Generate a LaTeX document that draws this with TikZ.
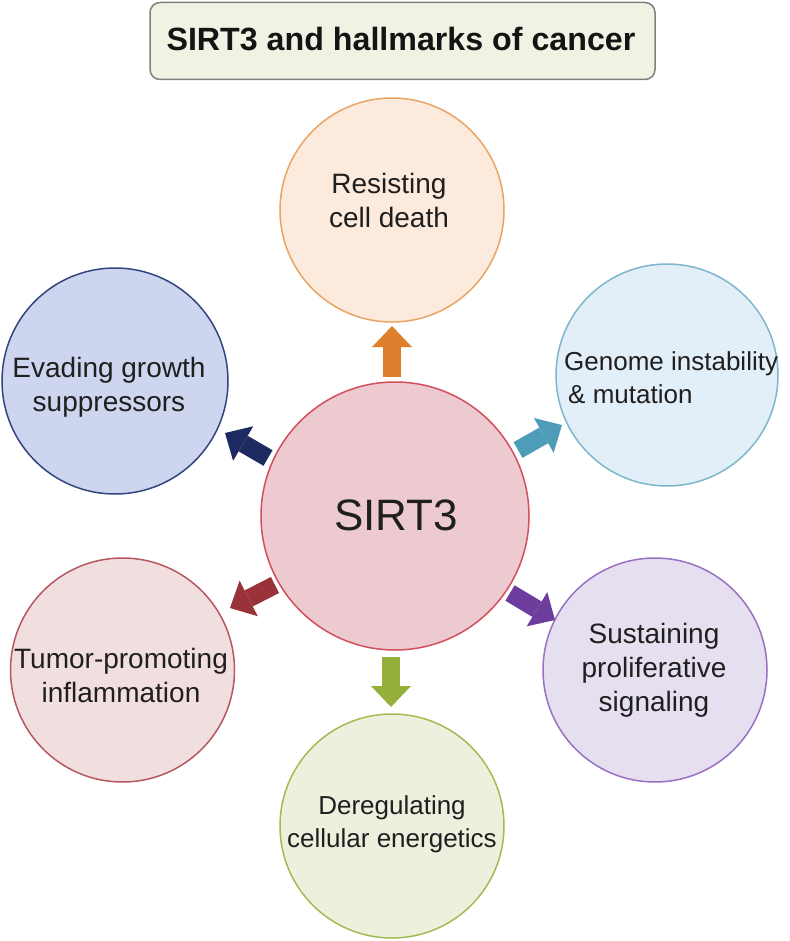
\documentclass[tikz,border=0pt]{standalone}
\usepackage{fontspec}
\setmainfont{Liberation Sans}
\usetikzlibrary{arrows.meta}
\definecolor{titlefill}{HTML}{F0F3E4}
\definecolor{titledraw}{HTML}{808080}
\definecolor{cTopF}{HTML}{FCEBDD}\definecolor{cTopD}{HTML}{E8A366}\definecolor{cTopA}{HTML}{DF7F2E}
\definecolor{cEvaF}{HTML}{CDD6EE}\definecolor{cEvaD}{HTML}{34457F}\definecolor{cEvaA}{HTML}{1E2B62}
\definecolor{cGenF}{HTML}{E2EEF8}\definecolor{cGenD}{HTML}{7EB6CB}\definecolor{cGenA}{HTML}{4E9CB8}
\definecolor{cSirF}{HTML}{EDC9D0}\definecolor{cSirD}{HTML}{D2505E}
\definecolor{cTumF}{HTML}{F1DEDF}\definecolor{cTumD}{HTML}{B55860}\definecolor{cTumA}{HTML}{9A323A}
\definecolor{cSusF}{HTML}{E5DFEF}\definecolor{cSusD}{HTML}{9A70C4}\definecolor{cSusA}{HTML}{6C3D9C}
\definecolor{cDerF}{HTML}{EEF0DE}\definecolor{cDerD}{HTML}{A2BC55}\definecolor{cDerA}{HTML}{95B03A}
\tikzset{
  hall/.style={circle, draw, line width=1.5pt, minimum size=224pt, inner sep=0pt},
  lbl/.style={align=center, font=\fontsize{28}{34}\selectfont, text=black!88, inner sep=0pt},
  lblsmall/.style={lbl, font=\fontsize{26}{33}\selectfont},
  bigarrow/.style={line width=18pt, -{Triangle[length=21pt,width=40pt,line width=0pt]}}
}
\begin{document}
\begin{tikzpicture}[x=1pt,y=-1pt]
\useasboundingbox (0,0) rectangle (789,941);
% title
\node[draw=titledraw, fill=titlefill, line width=1.5pt, rounded corners=10pt,
      minimum width=505pt, minimum height=77pt, inner sep=0pt] (title) at (402.5,41) {};
\node[font=\fontsize{32.2}{36}\selectfont\bfseries, inner sep=0pt, text=black!92] (titletext) at (401,39) {SIRT3 and hallmarks of cancer};
% circles
\node[hall, draw=cTopD, fill=cTopF] (top) at (392,210) {};
\node[hall, draw=cEvaD, fill=cEvaF, minimum size=226pt] (eva) at (115,381) {};
\node[hall, draw=cGenD, fill=cGenF, minimum size=222pt] (gen) at (667,375) {};
\node[hall, draw=cTumD, fill=cTumF] (tum) at (122.5,670) {};
\node[hall, draw=cSusD, fill=cSusF] (sus) at (655,670) {};
\node[hall, draw=cDerD, fill=cDerF] (der) at (392,826) {};
\node[hall, draw=cSirD, fill=cSirF, minimum size=268pt] (sirt) at (395,516) {};
% labels
\node[lbl] (topt) at (389,200.5) {Resisting\\cell death};
\node[lbl] (evat) at (109,387) {Evading growth\\suppressors};
\node[lblsmall, align=left, anchor=west] (gent) at (564,378) {Genome instability\\\hspace*{4pt}\& mutation};
\node[lbl] (tumt) at (121,675.5) {Tumor-promoting\\inflammation};
\node[lbl] (sust) at (654,670.5) {Sustaining\\proliferative\\signaling};
\node[lblsmall] (dert) at (392,824) {Deregulating\\cellular energetics};
\node[font=\fontsize{44}{50}\selectfont, inner sep=0pt, text=black!88] (sirtt) at (396,515) {SIRT3};
% arrow end points
\coordinate (aTop0) at (392,377); \coordinate (aTop1) at (392,326);
\coordinate (aGen0) at (518,450); \coordinate (aGen1) at (562,425);
\coordinate (aEva0) at (268,458); \coordinate (aEva1) at (225,433);
\coordinate (aTum0) at (275,585); \coordinate (aTum1) at (230,608);
\coordinate (aSus0) at (510,593); \coordinate (aSus1) at (555,620);
\coordinate (aDer0) at (391,657); \coordinate (aDer1) at (391,707);
% arrows
\draw[bigarrow, cTopA] (aTop0) -- (aTop1);
\draw[bigarrow, cGenA] (aGen0) -- (aGen1);
\draw[bigarrow, cEvaA] (aEva0) -- (aEva1);
\draw[bigarrow, cTumA] (aTum0) -- (aTum1);
\draw[bigarrow, cSusA] (aSus0) -- (aSus1);
\draw[bigarrow, cDerA] (aDer0) -- (aDer1);
\end{tikzpicture}
\end{document}
